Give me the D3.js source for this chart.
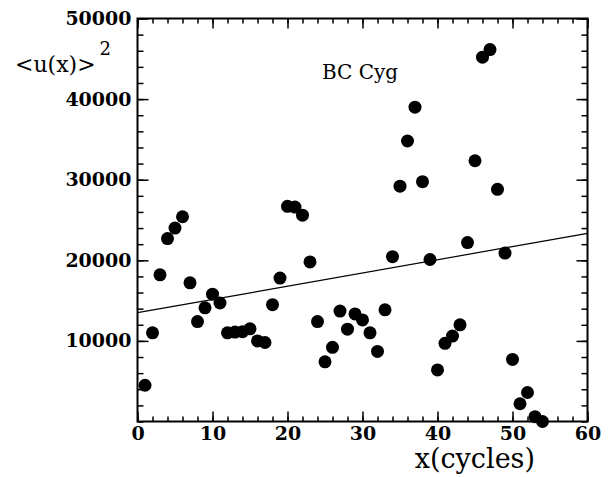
<!DOCTYPE html>
<html>
<head>
<meta charset="utf-8">
<script src="https://cdn.jsdelivr.net/npm/d3@7"></script>
<style>
  body { margin: 0; background: #fff; }
  svg { display: block; }
  .tick text { font-family: 'DejaVu Serif', serif; font-weight: bold; font-size: 19px; fill: #000; }
  .tick line { stroke: #000; stroke-width: 1.5; }
</style>
</head>
<body>
<script>
// cycle number and squared mean amplitude
const cycles = [1, 2, 3, 4, 5, 6, 7, 8, 9, 10, 11, 12, 13, 14, 15, 16, 17, 18, 19, 20,
  21, 22, 23, 24, 25, 26, 27, 28, 29, 30, 31, 32, 33, 34, 35, 36, 37, 38, 39, 40,
  41, 42, 43, 44, 45, 46, 47, 48, 49, 50, 51, 52, 53, 54];
const u2 = [4500, 11000, 18200, 22700, 24000, 25400, 17200, 12400, 14100, 15800,
  14700, 11000, 11100, 11150, 11500, 10000, 9800, 14500, 17800, 26700,
  26600, 25600, 19800, 12400, 7400, 9200, 13700, 11450, 13350, 12600,
  11000, 8700, 13850, 20450, 29200, 34800, 39000, 29750, 20100, 6400,
  9700, 10600, 12000, 22200, 32350, 45200, 46150, 28800, 20900, 7700,
  2200, 3600, 600, 0];

// linear fit
const fitX = [0, 60];
const fitY = [13500, 23350];

const xTicks = [0, 10, 20, 30, 40, 50, 60];
const xMinor = d3.range(0, 61, 2);
const yTicks = [10000, 20000, 30000, 40000, 50000];
const yMinor = d3.range(0, 50001, 2000);

const w = 613;
const h = 477;

const x = d3.scaleLinear().domain([0, 60]).range([137.5, 587.5]);
const y = d3.scaleLinear().domain([0, 50000]).range([421.5, 18.5]);

const svg = d3.select('body').append('svg')
  .attr('width', w)
  .attr('height', h);

svg.append('rect').attr('width', w).attr('height', h).attr('fill', '#fff');

// fitted line
svg.append('line')
  .attr('x1', x(fitX[0])).attr('y1', y(fitY[0]))
  .attr('x2', x(fitX[1])).attr('y2', y(fitY[1]))
  .attr('stroke', '#000')
  .attr('stroke-width', 1.2);

// points
svg.selectAll('circle')
  .data(cycles)
  .enter()
  .append('circle')
  .attr('cx', (d) => x(d))
  .attr('cy', (d, i) => y(u2[i]))
  .attr('r', 6.5)
  .attr('fill', '#000');

function addAxis(axis, tx, ty) {
  const g = svg.append('g')
    .attr('transform', 'translate(' + tx + ',' + ty + ')')
    .call(axis);
  g.select('.domain').remove();
  return g;
}

const noLabel = () => '';

// bottom
addAxis(d3.axisBottom(x).tickValues(xMinor).tickSize(-5).tickFormat(noLabel), 0, y(0));
addAxis(d3.axisBottom(x).tickValues(xTicks).tickSize(-10).tickPadding(5).tickFormat(d3.format('d')), 0, y(0));
// top
addAxis(d3.axisTop(x).tickValues(xMinor).tickSize(-5).tickFormat(noLabel), 0, y(50000));
addAxis(d3.axisTop(x).tickValues(xTicks).tickSize(-10).tickFormat(noLabel), 0, y(50000));
// left
addAxis(d3.axisLeft(y).tickValues(yMinor).tickSize(-6).tickFormat(noLabel), x(0), 0);
addAxis(d3.axisLeft(y).tickValues(yTicks).tickSize(-11).tickPadding(6).tickFormat(d3.format('d')), x(0), 0);
// right
addAxis(d3.axisRight(y).tickValues(yMinor).tickSize(-6).tickFormat(noLabel), x(60), 0);
addAxis(d3.axisRight(y).tickValues(yTicks).tickSize(-11).tickFormat(noLabel), x(60), 0);

// frame
svg.append('rect')
  .attr('x', x(0)).attr('y', y(50000))
  .attr('width', x(60) - x(0)).attr('height', y(0) - y(50000))
  .attr('fill', 'none')
  .attr('stroke', '#000')
  .attr('stroke-width', 2);

// labels
svg.append('text')
  .attr('x', 535).attr('y', 468)
  .attr('text-anchor', 'end')
  .style('font-family', "'DejaVu Serif', serif")
  .style('font-size', '27px')
  .text('x(cycles)');

const yl = svg.append('text')
  .attr('x', 15).attr('y', 72)
  .style('font-family', "'DejaVu Serif', serif")
  .style('font-size', '22px')
  .text('<u(x)>');
yl.append('tspan')
  .attr('dx', 4).attr('dy', -17)
  .style('font-size', '18px')
  .text('2');

svg.append('text')
  .attr('x', 322).attr('y', 79)
  .style('font-family', "'DejaVu Serif', serif")
  .style('font-size', '20px')
  .text('BC Cyg');
</script>
</body>
</html>
